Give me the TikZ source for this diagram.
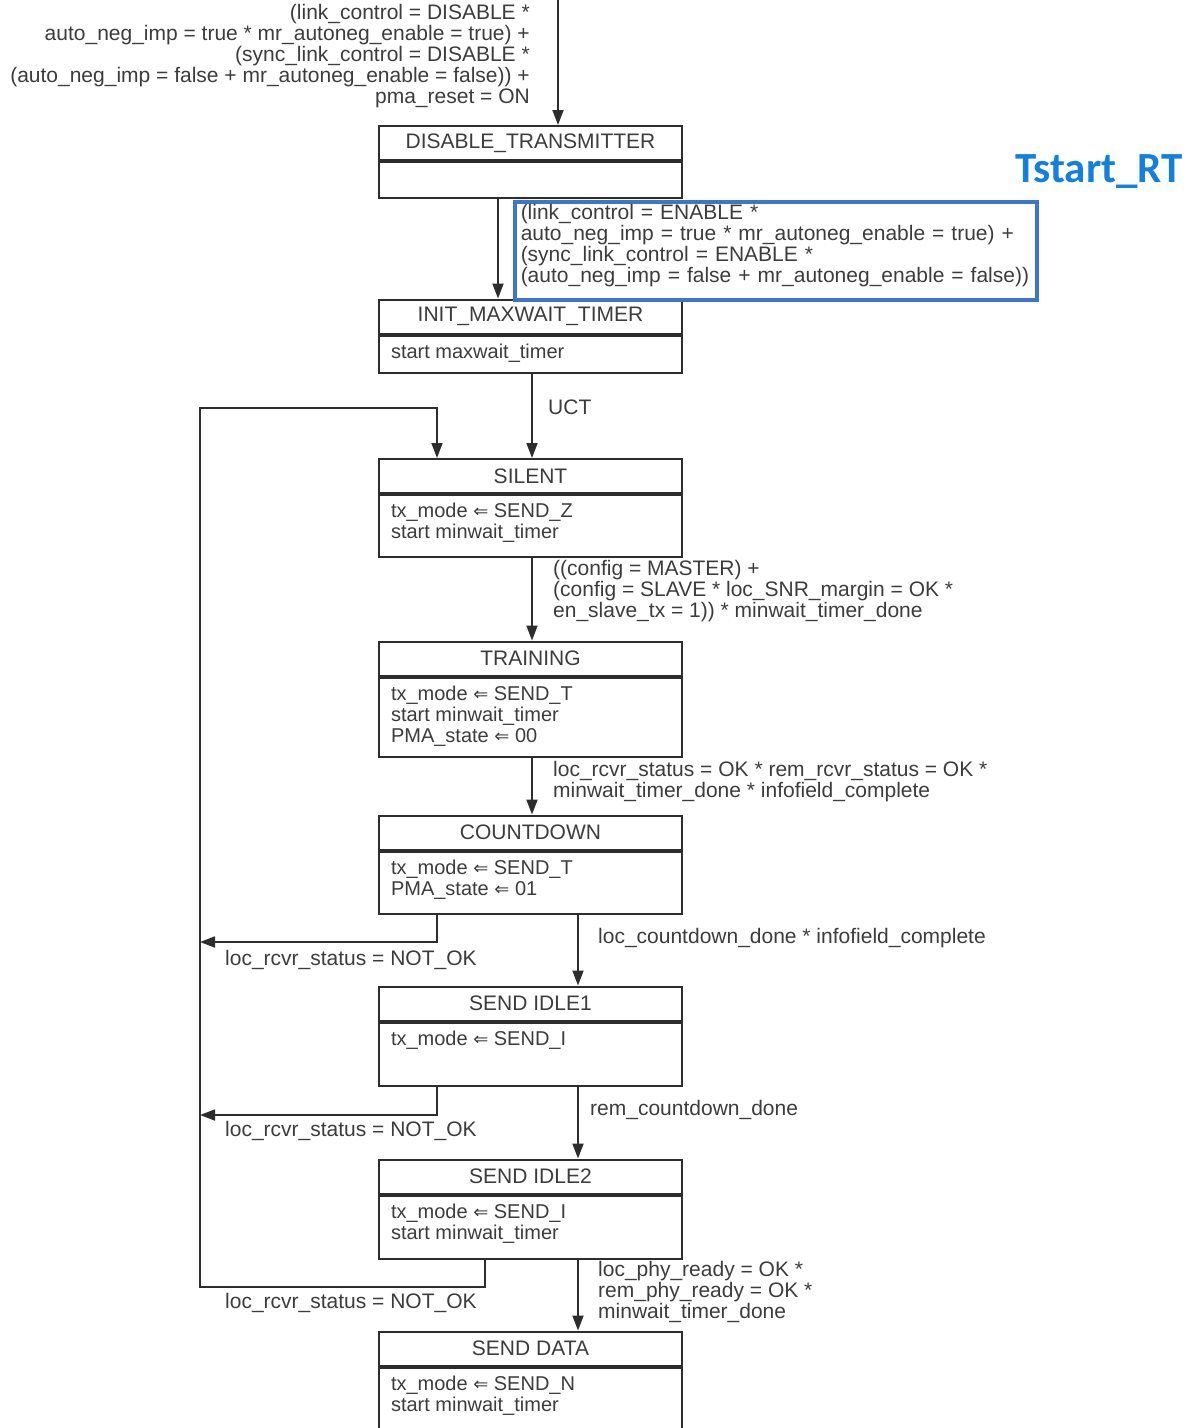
\documentclass[tikz,border=0pt]{standalone}
\usepackage{fontspec}
\setmainfont{Liberation Sans}
\newfontfamily\rtfont{Carlito}
\newfontfamily\arrowfont{DejaVu Sans}
\usetikzlibrary{
    positioning,
    arrows.meta,
    calc
}
\definecolor{lineGray}{RGB}{45, 45, 45}
\definecolor{textGray}{RGB}{60, 60, 60}
\definecolor{markBlue}{RGB}{58, 118, 205}
\definecolor{rtBlue}{RGB}{18, 128, 220}
\newcommand{\smfont}{\fontsize{21}{21}\selectfont}
\newcommand{\getsarrow}{{\arrowfont\fontsize{18}{18}\selectfont ⇐}}
\newcommand{\actions}[2]{\parbox[t][#1][t]{279pt}{\fontsize{20}{21}\selectfont\vspace*{8pt}#2}}

\begin{document}
\begin{tikzpicture}[x=1pt, y=-1pt,
    state/.style={draw=lineGray, line width=2pt, minimum width=303pt, minimum height=34pt, inner sep=0pt, font=\smfont, text=textGray},
    acts/.style={draw=lineGray, line width=2pt, minimum width=303pt, inner xsep=12pt, inner ysep=0pt, text=textGray},
    cond/.style={font=\smfont, text=textGray, inner sep=0pt},
    tr/.style={-{Triangle[length=15pt, width=11pt]}, line width=1.8pt, draw=lineGray}]
    \useasboundingbox (0,0) rectangle (1193,1428);

    \coordinate (topIn) at (558,0);
    \coordinate (xA) at (498,0);
    \coordinate (xB) at (532,0);
    \coordinate (xC) at (578,0);
    \coordinate (xD) at (437,0);
    \coordinate (xE) at (485,0);
    \coordinate (back1) at (200,942);
    \coordinate (back2) at (200,1115);
    \coordinate (loopB) at (200,1287);
    \coordinate (loopT) at (200,408);

    \node[state] (dtT) at (530.5,143) {DISABLE\_TRANSMITTER};
    \node[acts, below=0pt of dtT] (dt) {\actions{36pt}{}};
    \node[state] (imtT) at (530.5,316.5) {INIT\_MAXWAIT\_TIMER};
    \node[acts, below=0pt of imtT] (imt) {\actions{37pt}{start maxwait\_timer}};
    \node[state] (silT) at (530.5,476) {SILENT};
    \node[acts, below=0pt of silT] (sil) {\actions{62pt}{tx\_mode \getsarrow{} SEND\_Z\\start minwait\_timer}};
    \node[state] (trnT) at (530.5,658.5) {TRAINING};
    \node[acts, below=0pt of trnT] (trn) {\actions{79pt}{tx\_mode \getsarrow{} SEND\_T\\start minwait\_timer\\PMA\_state \getsarrow{} 00}};
    \node[state] (cntT) at (530.5,832.5) {COUNTDOWN};
    \node[acts, below=0pt of cntT] (cnt) {\actions{62pt}{tx\_mode \getsarrow{} SEND\_T\\PMA\_state \getsarrow{} 01}};
    \node[state] (id1T) at (530.5,1003.5) {SEND IDLE1};
    \node[acts, below=0pt of id1T] (id1) {\actions{63pt}{tx\_mode \getsarrow{} SEND\_I}};
    \node[state] (id2T) at (530.5,1176.5) {SEND IDLE2};
    \node[acts, below=0pt of id2T] (id2) {\actions{63pt}{tx\_mode \getsarrow{} SEND\_I\\start minwait\_timer}};
    \node[state] (sdT) at (530.5,1348.5) {SEND DATA};
    \node[acts, below=0pt of sdT] (sd) {\actions{70pt}{tx\_mode \getsarrow{} SEND\_N\\start minwait\_timer}};

    \draw[tr] (topIn) -- (dtT.north -| topIn);
    \draw[tr] (dt.south -| xA) -- (imtT.north -| xA);
    \draw[tr] (imt.south -| xB) -- (silT.north -| xB);
    \draw[tr] (sil.south -| xB) -- (trnT.north -| xB);
    \draw[tr] (trn.south -| xB) -- (cntT.north -| xB);
    \draw[tr] (cnt.south -| xC) -- (id1T.north -| xC);
    \draw[tr] (id1.south -| xC) -- (id2T.north -| xC);
    \draw[tr] (id2.south -| xC) -- (sdT.north -| xC);
    \draw[tr] (cnt.south -| xD) |- (back1);
    \draw[tr] (id1.south -| xD) |- (back2);
    \draw[tr] (id2.south -| xE) |- (loopB) -- (loopT) -| (silT.north -| xD);

    \node[cond, anchor=north east, align=right] (cDis) at (530,4) {(link\_control = DISABLE *\\auto\_neg\_imp = true * mr\_autoneg\_enable = true) +\\(sync\_link\_control = DISABLE *\\(auto\_neg\_imp = false + mr\_autoneg\_enable = false)) +\\pma\_reset = ON};
    \node[cond, draw=markBlue, line width=3.5pt, anchor=north west, text width=510pt, inner xsep=6pt, minimum height=98pt, align=left] (cEn) at (513,200) {(link\_control = ENABLE *\\auto\_neg\_imp = true * mr\_autoneg\_enable = true) +\\(sync\_link\_control = ENABLE *\\(auto\_neg\_imp = false + mr\_autoneg\_enable = false))\par\vspace{10pt}};
    \node[font=\rtfont\bfseries\fontsize{43}{43}\selectfont, text=rtBlue, inner sep=0pt] (rt) at (1099,172) {Tstart\_RT};
    \node[cond, anchor=west] (cUct) at (548,407) {UCT};
    \node[cond, anchor=north west, align=left] (cTrn) at (553,560) {((config = MASTER) +\\(config = SLAVE * loc\_SNR\_margin = OK *\\en\_slave\_tx = 1)) * minwait\_timer\_done};
    \node[cond, anchor=north west, align=left] (cCnt) at (553,761) {loc\_rcvr\_status = OK * rem\_rcvr\_status = OK *\\minwait\_timer\_done * infofield\_complete};
    \node[cond, anchor=west] (cId1) at (598,938) {loc\_countdown\_done * infofield\_complete};
    \node[cond, anchor=west] (cBk1) at (225,960) {loc\_rcvr\_status = NOT\_OK};
    \node[cond, anchor=west] (cId2) at (590,1110) {rem\_countdown\_done};
    \node[cond, anchor=west] (cBk2) at (225,1131) {loc\_rcvr\_status = NOT\_OK};
    \node[cond, anchor=north west, align=left] (cSd) at (598,1261) {loc\_phy\_ready = OK *\\rem\_phy\_ready = OK *\\minwait\_timer\_done};
    \node[cond, anchor=west] (cBk3) at (225,1303) {loc\_rcvr\_status = NOT\_OK};
\end{tikzpicture}
\end{document}
